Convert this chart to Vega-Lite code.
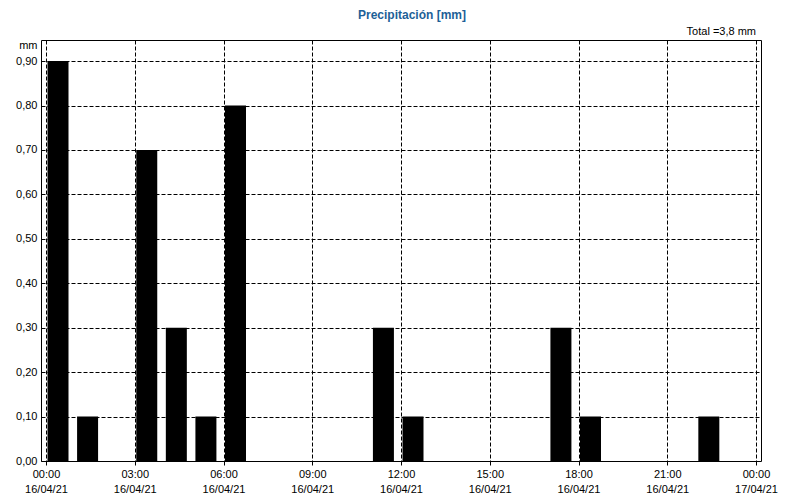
{
  "$schema": "https://vega.github.io/schema/vega-lite/v6.json",
  "width": 720,
  "height": 421,
  "autosize": {"type": "none"},
  "padding": {"left": 41, "top": 40, "right": 39, "bottom": 39},
  "background": "white",
  "config": {
    "font": "Liberation Sans",
    "axis": {"labelFont": "Liberation Sans", "labelFontSize": 11, "labelColor": "black", "titleColor": "black", "titleFont": "Liberation Sans"}
  },
  "view": {"stroke": "black", "strokeWidth": 1, "fill": "white"},
  "title": {"text": "Precipitación [mm]", "anchor": "middle", "fontSize": 12, "fontWeight": "bold", "font": "Liberation Sans", "color": "#1d5f97", "offset": 4, "dx": 11},
  "layer": [
    {
      "data": {
        "values": [
          {"hour": 0, "date": "16/04/21", "mm": 0.9},
          {"hour": 1, "date": "16/04/21", "mm": 0.1},
          {"hour": 3, "date": "16/04/21", "mm": 0.7},
          {"hour": 4, "date": "16/04/21", "mm": 0.3},
          {"hour": 5, "date": "16/04/21", "mm": 0.1},
          {"hour": 6, "date": "16/04/21", "mm": 0.8},
          {"hour": 11, "date": "16/04/21", "mm": 0.3},
          {"hour": 12, "date": "16/04/21", "mm": 0.1},
          {"hour": 17, "date": "16/04/21", "mm": 0.3},
          {"hour": 18, "date": "16/04/21", "mm": 0.1},
          {"hour": 22, "date": "16/04/21", "mm": 0.1}
        ]
      },
      "mark": {"type": "bar", "color": "black", "size": 21, "xOffset": 12},
      "encoding": {
        "x": {
          "field": "hour",
          "type": "quantitative",
          "scale": {"domain": [0, 24], "nice": false, "zero": true},
          "axis": {
            "title": null,
            "domain": false,
            "values": [0, 3, 6, 9, 12, 15, 18, 21, 24],
            "tickSize": 4,
            "tickColor": "black",
            "labelOverlap": false,
            "labelFlush": false,
            "labelBound": false,
            "labelPadding": 3,
            "labelLineHeight": 15,
            "labelExpr": "datum.value < 24 ? [(datum.value < 10 ? '0' : '') + datum.value + ':00', '16/04/21'] : ['00:00', '17/04/21']",
            "grid": true,
            "gridColor": "black",
            "gridDash": [4, 2],
            "gridOpacity": 1
          }
        },
        "y": {
          "field": "mm",
          "type": "quantitative",
          "scale": {"domain": [0, 0.9474], "nice": false, "zero": true},
          "axis": {
            "values": [0, 0.05, 0.1, 0.15, 0.2, 0.25, 0.3, 0.35, 0.4, 0.45, 0.5, 0.55, 0.6, 0.65, 0.7, 0.75, 0.8, 0.85, 0.9],
            "labelExpr": "replace(format(datum.value, '.2f'), '.', ',')",
            "tickSize": 0,
            "labelPadding": 4,
            "domain": false,
            "grid": true,
            "gridColor": "black",
            "gridDash": [4, 2],
            "gridOpacity": 1,
            "title": "mm",
            "titleAngle": 0,
            "titleAlign": "right",
            "titleBaseline": "middle",
            "titleX": -4,
            "titleY": 5,
            "titleFontWeight": "normal",
            "titleFontSize": 11
          }
        }
      }
    },
    {
      "data": {"values": [{"label": "Total =3,8 mm", "hour": 24, "mm": 0.9474}]},
      "mark": {"type": "text", "align": "right", "baseline": "bottom", "dy": -3, "fontSize": 11, "color": "black", "font": "Liberation Sans", "clip": false},
      "encoding": {
        "x": {"field": "hour", "type": "quantitative"},
        "y": {"field": "mm", "type": "quantitative"},
        "text": {"field": "label"}
      }
    }
  ]
}
